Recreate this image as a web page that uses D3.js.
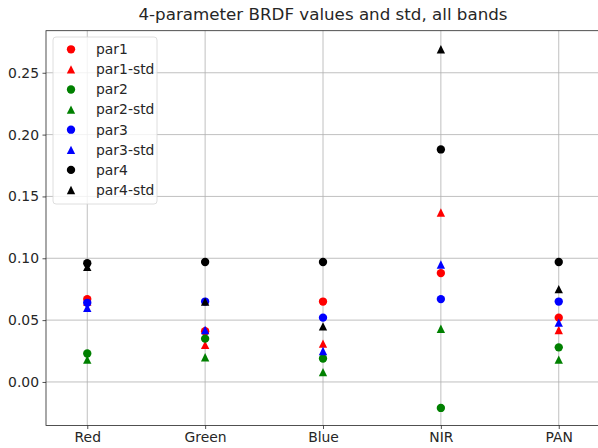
<!DOCTYPE html>
<html>
<head>
<meta charset="utf-8">
<script src="https://cdn.jsdelivr.net/npm/d3@7"></script>
<style>
  body { margin: 0; background: #fff; }
  svg { display: block; font-family: "DejaVu Sans", sans-serif; }
</style>
</head>
<body>
<div id="chart"></div>
<script>
// values
const bands = ['Red', 'Green', 'Blue', 'NIR', 'PAN'];
const par1 = [0.067, 0.041, 0.065, 0.088, 0.052];
const par1Std = [0.065, 0.030, 0.031, 0.137, 0.042];
const par2 = [0.023, 0.035, 0.019, -0.021, 0.028];
const par2Std = [0.018, 0.020, 0.008, 0.043, 0.018];
const par3 = [0.064, 0.065, 0.052, 0.067, 0.065];
const par3Std = [0.060, 0.042, 0.025, 0.095, 0.048];
const par4 = [0.096, 0.097, 0.097, 0.188, 0.097];
const par4Std = [0.093, 0.065, 0.045, 0.269, 0.075];
const yTicks = [0.00, 0.05, 0.10, 0.15, 0.20, 0.25];

const series = [
  { name: 'par1', values: par1, color: 'red', marker: 'circle' },
  { name: 'par1-std', values: par1Std, color: 'red', marker: 'triangle' },
  { name: 'par2', values: par2, color: 'green', marker: 'circle' },
  { name: 'par2-std', values: par2Std, color: 'green', marker: 'triangle' },
  { name: 'par3', values: par3, color: 'blue', marker: 'circle' },
  { name: 'par3-std', values: par3Std, color: 'blue', marker: 'triangle' },
  { name: 'par4', values: par4, color: 'black', marker: 'circle' },
  { name: 'par4-std', values: par4Std, color: 'black', marker: 'triangle' },
];

const W = 598, H = 448;
const plot = { left: 46, right: 600, top: 30.7, bottom: 425.5 };
const ms = 4.17; // half marker size in px

const svg = d3.select('#chart').append('svg')
  .attr('width', W).attr('height', H);

const x = d3.scaleLinear().domain([-0.35, 4.35]).range([plot.left, plot.right]);
const y = d3.scaleLinear().domain([-0.0352, 0.284]).range([plot.bottom, plot.top]);

// grid
const grid = svg.append('g');
grid.selectAll('.vgrid').data(bands).enter().append('line')
  .attr('x1', (d, i) => x(i)).attr('x2', (d, i) => x(i))
  .attr('y1', plot.top).attr('y2', plot.bottom)
  .attr('stroke', '#b0b0b0').attr('stroke-width', 0.8);
grid.selectAll('.hgrid').data(yTicks).enter().append('line')
  .attr('x1', plot.left).attr('x2', plot.right)
  .attr('y1', d => y(d)).attr('y2', d => y(d))
  .attr('stroke', '#b0b0b0').attr('stroke-width', 0.8);

// axes
const xAxis = d3.axisBottom(x).tickValues(d3.range(bands.length))
  .tickFormat(i => bands[i]).tickSize(3.5).tickPadding(3.5);
const yAxis = d3.axisLeft(y).tickValues(yTicks)
  .tickFormat(d3.format('.2f')).tickSize(3.5).tickPadding(3.5);

const gx = svg.append('g').attr('transform', `translate(0,${plot.bottom})`).call(xAxis);
const gy = svg.append('g').attr('transform', `translate(${plot.left},0)`).call(yAxis);
[gx, gy].forEach(g => {
  g.select('.domain').remove();
  g.selectAll('text').attr('font-size', '13.9px').attr('fill', '#262626')
    .attr('font-family', '"DejaVu Sans", sans-serif');
  g.selectAll('line').attr('stroke', '#262626').attr('stroke-width', 0.8);
});

// spines
svg.append('rect')
  .attr('x', plot.left).attr('y', plot.top)
  .attr('width', plot.right - plot.left).attr('height', plot.bottom - plot.top)
  .attr('fill', 'none').attr('stroke', '#262626').attr('stroke-width', 0.8);

function markerPath(type) {
  if (type === 'circle') {
    return d3.symbol().type(d3.symbolCircle).size(Math.PI * ms * ms)();
  }
  // matplotlib '^': bbox-centred triangle
  return `M0,${-ms}L${-ms},${ms}L${ms},${ms}Z`;
}

// points
series.forEach(s => {
  svg.append('g').selectAll('path').data(s.values).enter().append('path')
    .attr('d', markerPath(s.marker))
    .attr('transform', (d, i) => `translate(${x(i)},${y(d)})`)
    .attr('fill', s.color);
});

// title
svg.append('text')
  .attr('x', (plot.left + plot.right) / 2).attr('y', 20)
  .attr('text-anchor', 'middle').attr('font-size', '16.7px').attr('fill', '#262626')
  .text('4-parameter BRDF values and std, all bands');

// legend
const legend = svg.append('g').attr('transform', 'translate(53,37)');
legend.append('rect')
  .attr('width', 104).attr('height', 167).attr('rx', 3)
  .attr('fill', 'white').attr('fill-opacity', 0.8)
  .attr('stroke', '#d6d6d6').attr('stroke-width', 0.8);
const rows = legend.selectAll('.row').data(series).enter().append('g')
  .attr('transform', (d, i) => `translate(0,${12.3 + i * 20.1})`);
rows.append('path')
  .attr('d', d => markerPath(d.marker))
  .attr('transform', 'translate(18,0)')
  .attr('fill', d => d.color);
rows.append('text')
  .attr('x', 43).attr('dy', '0.35em')
  .attr('font-size', '13.9px').attr('fill', '#262626')
  .text(d => d.name);
</script>
</body>
</html>
